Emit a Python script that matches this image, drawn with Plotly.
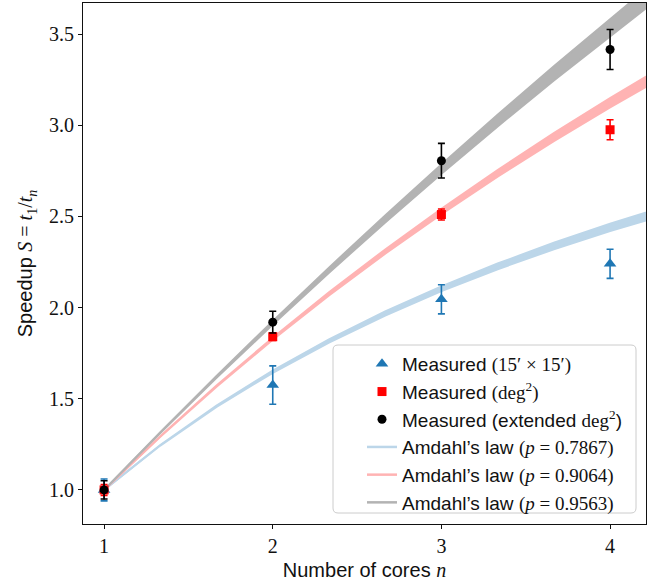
import numpy as np
import plotly.graph_objects as go

# Measured speedups (mean and 1-sigma error) per number of cores
cores = [1, 2, 3, 4]
speedup_15arcmin = [1.00, 1.575, 2.045, 2.24]
err_15arcmin = [0.06, 0.105, 0.08, 0.08]
speedup_deg2 = [1.00, 1.84, 2.51, 2.975]
err_deg2 = [0.03, 0.02, 0.03, 0.055]
speedup_ext = [1.00, 1.92, 2.805, 3.415]
err_ext = [0.05, 0.06, 0.095, 0.11]

# Amdahl's law fits: parallel fraction p and its uncertainty
p_fit = [0.7867, 0.9064, 0.9563]
p_err = [0.0045, 0.0035, 0.005]
band_colors = ["#bcd6e9", "#ffb3b3", "#b3b3b3"]

x_ticks = [1, 2, 3, 4]
y_ticks = [1.0, 1.5, 2.0, 2.5, 3.0, 3.5]
x_range = [0.875, 4.213]
y_range = [0.813, 3.67]

W, H = 665, 583
M = dict(l=83, r=19, t=3, b=59)

SERIF = "Liberation Serif"
SANS = "Liberation Sans"


def m(s):
    return f'<span style="font-family:{SERIF}">{s}</span>'


def amdahl(n, p):
    return 1.0 / ((1.0 - p) + p / n)


n_grid = np.arange(1.0, 4.5, 1.0 / 3.0)

fig = go.Figure()

# Uncertainty bands of the Amdahl fits
for p, dp, col in zip(p_fit, p_err, band_colors):
    fig.add_trace(go.Scatter(
        x=n_grid, y=amdahl(n_grid, p + dp), mode="lines",
        line=dict(color=col, width=2), showlegend=False, hoverinfo="skip"))
    fig.add_trace(go.Scatter(
        x=n_grid, y=amdahl(n_grid, p - dp), mode="lines", fill="tonexty",
        fillcolor=col, line=dict(color=col, width=2),
        showlegend=False, hoverinfo="skip"))

# Measurements
meas = [
    (speedup_15arcmin, err_15arcmin, "#1f77b4", "triangle-up", 11,
     "Measured " + m("(15′ × 15′)")),
    (speedup_deg2, err_deg2, "#ff0000", "square", 9,
     "Measured " + m("(deg<sup>2</sup>)")),
    (speedup_ext, err_ext, "#000000", "circle", 9,
     "Measured (extended " + m("deg<sup>2</sup>") + ")"),
]
for i, (y, e, col, sym, size, name) in enumerate(meas):
    fig.add_trace(go.Scatter(
        x=cores, y=y, mode="markers", name=name, legendrank=i + 1,
        marker=dict(symbol=sym, size=size, color=col, line=dict(width=0)),
        error_y=dict(type="data", array=e, color=col, thickness=1.6, width=3.5)))

# Legend entries for the fitted curves
for i, (p, col) in enumerate(zip(p_fit, band_colors)):
    fig.add_trace(go.Scatter(
        x=[None], y=[None], mode="lines", legendrank=10 + i,
        line=dict(color=col, width=2.5),
        name="Amdahl’s law " + m(f"(<i>p</i> = {p:.4f})")))

# Rounded frame around the legend (pixel box converted to paper units)
pw = W - M["l"] - M["r"]
ph = H - M["t"] - M["b"]


def px(xp):
    return (xp - M["l"]) / pw


def py(yp):
    return (H - M["b"] - yp) / ph


bx0, bx1, by0, by1, rad = 333, 636, 345, 513, 5
path = (
    f"M {px(bx0 + rad)},{py(by0)} L {px(bx1 - rad)},{py(by0)} "
    f"Q {px(bx1)},{py(by0)} {px(bx1)},{py(by0 + rad)} "
    f"L {px(bx1)},{py(by1 - rad)} "
    f"Q {px(bx1)},{py(by1)} {px(bx1 - rad)},{py(by1)} "
    f"L {px(bx0 + rad)},{py(by1)} "
    f"Q {px(bx0)},{py(by1)} {px(bx0)},{py(by1 - rad)} "
    f"L {px(bx0)},{py(by0 + rad)} "
    f"Q {px(bx0)},{py(by0)} {px(bx0 + rad)},{py(by0)} Z"
)
fig.add_shape(type="path", path=path, xref="paper", yref="paper",
              line=dict(color="#cccccc", width=1),
              fillcolor="rgba(255,255,255,0.8)", layer="above")

axis_common = dict(
    showgrid=False, zeroline=False, showline=True, mirror=True,
    linecolor="#111111", linewidth=1.2, ticks="outside", ticklen=4,
    tickwidth=1, tickcolor="#111111",
    tickfont=dict(family=SERIF, size=20, color="#111111"),
)

fig.update_layout(
    width=W, height=H, margin=M,
    paper_bgcolor="white", plot_bgcolor="white",
    font=dict(family=SANS, size=19, color="#111111"),
    xaxis=dict(range=x_range, tickvals=x_ticks, ticktext=[str(t) for t in x_ticks],
               title=dict(text="Number of cores " + m("<i>n</i>"),
                          font=dict(size=20), standoff=6),
               **axis_common),
    yaxis=dict(range=y_range, tickvals=y_ticks, ticktext=[f"{t:.1f}" for t in y_ticks],
               title=dict(text="Speedup " + m("<i>S</i> = <i>t</i><sub>1</sub>/<i>t<sub>n</sub></i>"),
                          font=dict(size=20), standoff=10),
               **axis_common),
    legend=dict(x=px(362), y=py(345), xanchor="left", yanchor="top",
                bgcolor="rgba(0,0,0,0)", borderwidth=0, traceorder="normal",
                font=dict(family=SANS, size=19), tracegroupgap=0,
                itemwidth=30),
    showlegend=True,
)

fig.write_html("out.html")
